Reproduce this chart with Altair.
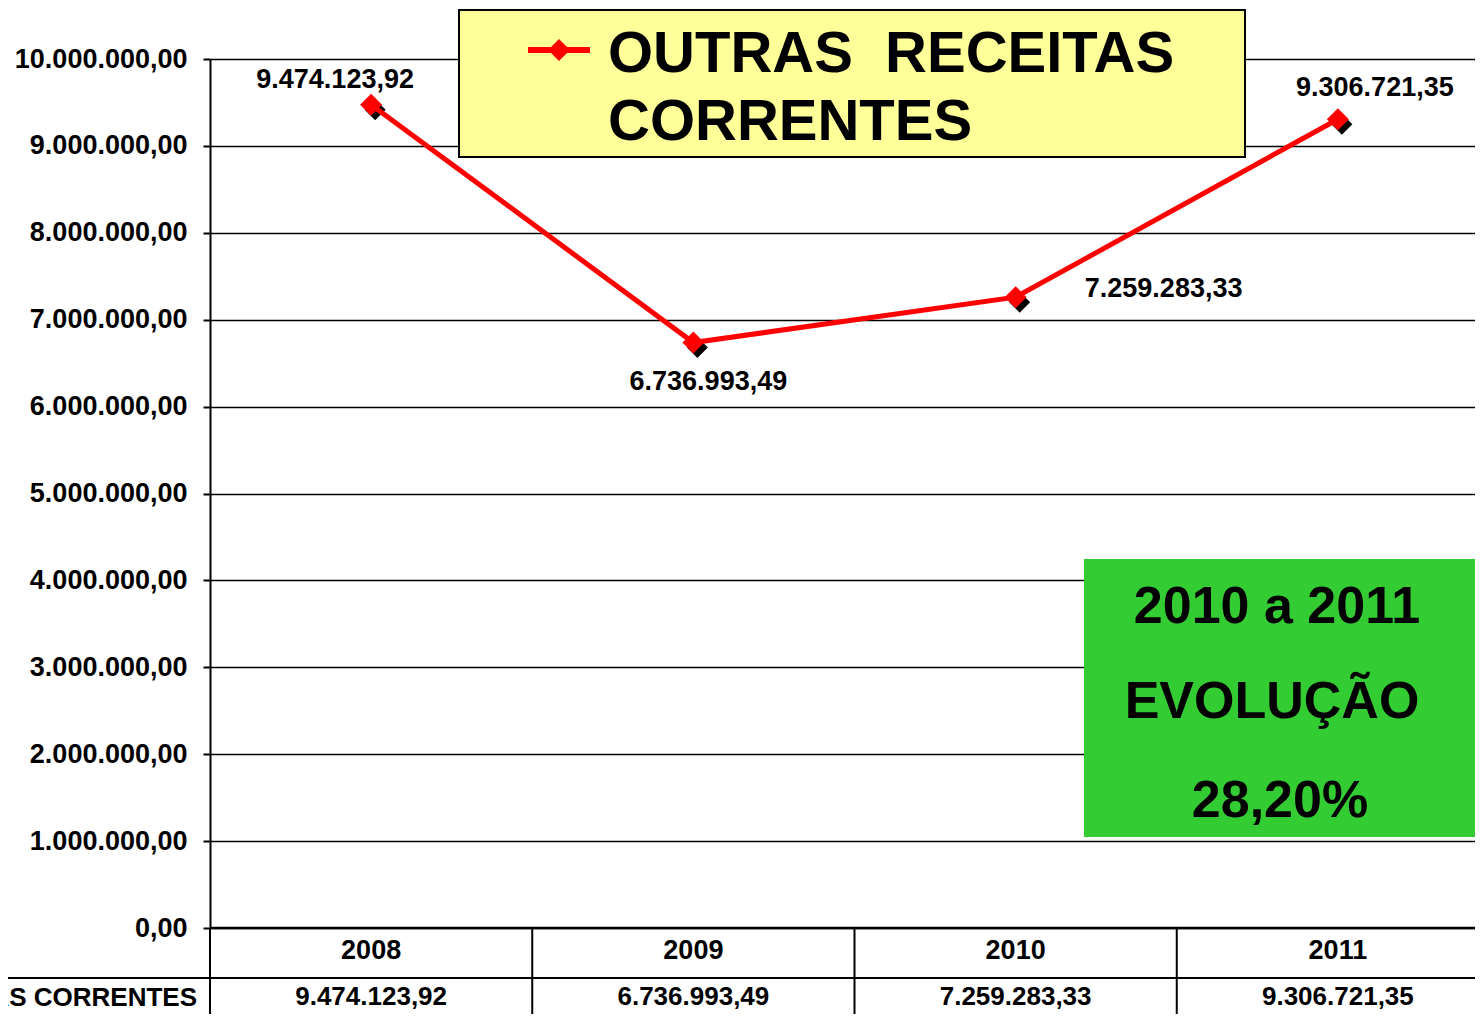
import json
import altair as alt
import pandas as pd

# ---------------- data ----------------
years = ["2008", "2009", "2010", "2011"]
values = [9474123.92, 6736993.49, 7259283.33, 9306721.35]
series_name = "OUTRAS RECEITAS CORRENTES"
y_ticks = [0, 1000000, 2000000, 3000000, 4000000, 5000000,
           6000000, 7000000, 8000000, 9000000, 10000000]
box_lines = ["2010 a 2011", "EVOLUÇÃO", "28,20%"]


def br(v):
    s = f"{v:,.2f}"
    return s.replace(",", "X").replace(".", ",").replace("X", ".")


y_tick_labels = [br(t) for t in y_ticks]
df = pd.DataFrame({"year": years, "value": values, "label": [br(v) for v in values]})

FONT = "Liberation Sans"
RED = "#FF0000"
W, H = 1265, 869      # visible plot area
XR = 1289             # band range (runs past the window's right edge, as in the original)

xscale = alt.Scale(type="band", range=[0, XR], paddingInner=0, paddingOuter=0)
x = alt.X("year:N", scale=xscale, axis=None)
y = alt.Y(
    "value:Q",
    scale=alt.Scale(domain=[0, 10000000], nice=False, zero=True),
    axis=alt.Axis(
        values=y_ticks,
        labelExpr=f"{json.dumps(y_tick_labels)}[round(datum.value/1000000)]",
        labelFont=FONT, labelFontSize=27, labelFontWeight="bold", labelColor="black",
        labelPadding=16, tickSize=7, tickColor="black", tickWidth=2,
        domainColor="black", domainWidth=2,
        grid=True, gridColor="black", gridWidth=1.5, title=None,
    ),
)

base = alt.Chart(df)
one = alt.Data(values=[{"k": 1}])

# table
top_border = alt.Chart(one).mark_rule(color="black", strokeWidth=2.5).encode(
    x=alt.value(0), x2=alt.value(XR), y=alt.value(H))
row_sep = alt.Chart(one).mark_rule(color="black", strokeWidth=2).encode(
    x=alt.value(-210), x2=alt.value(XR), y=alt.value(919))
vsep = base.mark_rule(color="black", strokeWidth=2).encode(
    x=alt.X("year:N", bandPosition=0, scale=xscale, axis=None),
    y=alt.value(H), y2=alt.value(1000))
year_txt = base.mark_text(font=FONT, fontSize=27, fontWeight="bold", color="black",
                          baseline="middle").encode(x=x, y=alt.value(892), text="year:N")
val_txt = base.mark_text(font=FONT, fontSize=26, fontWeight="bold", color="black",
                         baseline="middle").encode(x=x, y=alt.value(938), text="label:N")
row_label = alt.Chart(alt.Data(values=[{"t": series_name}])).mark_text(
    font=FONT, fontSize=26, fontWeight="bold", color="black", align="right",
    baseline="middle").encode(x=alt.value(-13), y=alt.value(939), text="t:N")

# series
shadow = base.mark_point(shape="diamond", filled=True, color="black", opacity=1,
                         size=440, xOffset=4, yOffset=5).encode(x=x, y=y)
line = base.mark_line(color=RED, strokeWidth=5).encode(x=x, y=y)
pts = base.mark_point(shape="diamond", filled=True, color=RED, opacity=1,
                      size=484).encode(x=x, y=y)

offsets = {"2008": (-36, -17), "2009": (15, 47), "2010": (148, 0), "2011": (37, -23)}
labels = []
for yr, (dx, dy) in offsets.items():
    labels.append(
        base.transform_filter(alt.datum.year == yr).mark_text(
            font=FONT, fontSize=27, fontWeight="bold", color="black",
            dx=dx, dy=dy, baseline="alphabetic", align="center"
        ).encode(x=x, y=y, text="label:N")
    )

# legend box
leg_rect = alt.Chart(one).mark_rect(fill="#FFFF99", stroke="black", strokeWidth=2).encode(
    x=alt.value(249), x2=alt.value(1035), y=alt.value(-49), y2=alt.value(98))
leg_line = alt.Chart(one).mark_rule(color=RED, strokeWidth=6).encode(
    x=alt.value(318), x2=alt.value(380), y=alt.value(-9))
leg_pt = alt.Chart(one).mark_point(shape="diamond", filled=True, color=RED, opacity=1,
                                   size=484).encode(x=alt.value(349), y=alt.value(-9))
leg_t1 = alt.Chart(alt.Data(values=[{"t": "OUTRAS\u00a0 RECEITAS"}])).mark_text(
    font=FONT, fontSize=58, fontWeight="bold", color="black", align="left",
    baseline="alphabetic").encode(x=alt.value(398), y=alt.value(13), text="t:N")
leg_t2 = alt.Chart(alt.Data(values=[{"t": "CORRENTES"}])).mark_text(
    font=FONT, fontSize=58, fontWeight="bold", color="black", align="left",
    baseline="alphabetic").encode(x=alt.value(398), y=alt.value(81), text="t:N")

# green box
g_rect = alt.Chart(one).mark_rect(fill="#33CC33").encode(
    x=alt.value(874), x2=alt.value(1267), y=alt.value(500), y2=alt.value(778))
g_texts = []
for t, gx, gy in zip(box_lines, [1067, 1062, 1070], [564, 659, 758]):
    g_texts.append(
        alt.Chart(alt.Data(values=[{"t": t}])).mark_text(
            font=FONT, fontSize=52, fontWeight="bold", color="black", align="center",
            baseline="alphabetic").encode(x=alt.value(gx), y=alt.value(gy), text="t:N")
    )

chart = alt.layer(
    top_border, row_sep, vsep, year_txt, val_txt, row_label,
    shadow, line, pts, *labels,
    leg_rect, leg_line, leg_pt, leg_t1, leg_t2,
    g_rect, *g_texts,
).properties(
    width=W, height=H,
    autosize=alt.AutoSizeParams(type="none"),
    padding={"left": 202, "top": 51, "right": 0, "bottom": 86},
    background="white",
).configure_view(stroke=None)

chart.save("out.html", embed_options={"renderer": "svg", "actions": False})
